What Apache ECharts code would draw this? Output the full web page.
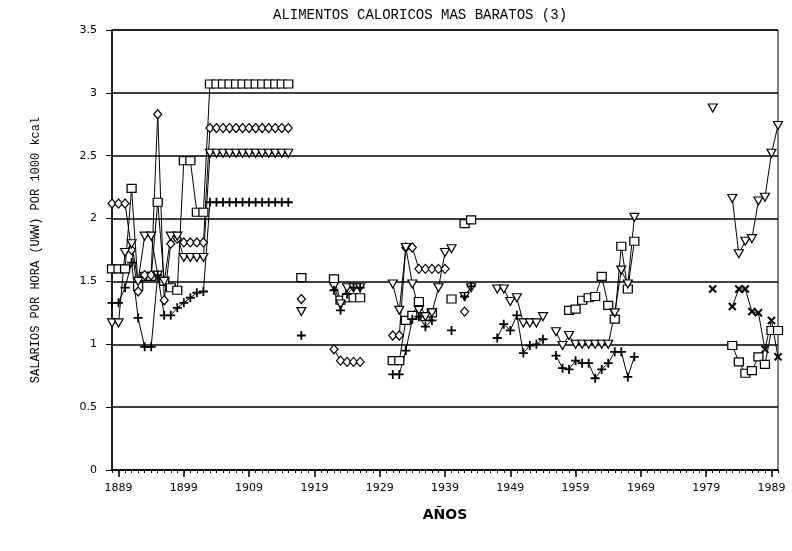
<!DOCTYPE html>
<html><head><meta charset="utf-8">
<script src="https://cdn.jsdelivr.net/npm/echarts/dist/echarts.min.js"></script>
<style>html,body{margin:0;padding:0;background:#fff}#c{width:792px;height:551px}</style>
</head><body><div id="c"></div>
<script>
// categories: one per year
const years = [];
for (let y = 1888; y <= 1990; y++) years.push(String(y));
const labelYears = ['1889','1899','1909','1919','1929','1939','1949','1959','1969','1979','1989'];
const yTicks = [0, 0.5, 1, 1.5, 2, 2.5, 3, 3.5];

// series values: [year, value]
const squares = [
 [1888,1.60],[1889,1.60],[1890,1.60],[1891,2.24],[1892,1.46],[1893,1.54],[1894,1.54],[1895,2.13],[1896,1.50],[1897,1.45],[1898,1.43],[1899,2.46],[1900,2.46],[1901,2.05],[1902,2.05],
 [1903,3.07],[1904,3.07],[1905,3.07],[1906,3.07],[1907,3.07],[1908,3.07],[1909,3.07],[1910,3.07],[1911,3.07],[1912,3.07],[1913,3.07],[1914,3.07],[1915,3.07],
 [1917,1.53],
 [1922,1.52],[1923,1.35],[1924,1.37],[1925,1.37],[1926,1.37],
 [1931,0.87],[1932,0.87],[1933,1.19],[1934,1.23],[1935,1.34],[1936,1.22],[1937,1.25],
 [1940,1.36],
 [1942,1.96],[1943,1.99],
 [1958,1.27],[1959,1.28],[1960,1.35],[1961,1.37],[1962,1.38],[1963,1.54],[1964,1.31],[1965,1.20],[1966,1.78],[1967,1.44],[1968,1.82],
 [1983,0.99],[1984,0.86],[1985,0.77],[1986,0.79],[1987,0.90],[1988,0.84],[1989,1.11],[1990,1.11]
];
const diamonds = [
 [1888,2.12],[1889,2.12],[1890,2.12],[1891,1.75],[1892,1.42],[1893,1.55],[1894,1.55],[1895,2.83],[1896,1.35],[1897,1.80],[1898,1.84],[1899,1.81],[1900,1.81],[1901,1.81],[1902,1.81],
 [1903,2.72],[1904,2.72],[1905,2.72],[1906,2.72],[1907,2.72],[1908,2.72],[1909,2.72],[1910,2.72],[1911,2.72],[1912,2.72],[1913,2.72],[1914,2.72],[1915,2.72],
 [1917,1.36],
 [1922,0.96],[1923,0.87],[1924,0.86],[1925,0.86],[1926,0.86],
 [1931,1.07],[1932,1.07],[1933,1.77],[1934,1.77],[1935,1.60],[1936,1.60],[1937,1.60],[1938,1.60],[1939,1.60],
 [1942,1.26]
];
const triangles = [
 [1888,1.17],[1889,1.17],[1890,1.73],[1891,1.80],[1892,1.50],[1893,1.86],[1894,1.86],[1895,1.55],[1896,1.50],[1897,1.86],[1898,1.86],[1899,1.69],[1900,1.69],[1901,1.69],[1902,1.69],
 [1903,2.52],[1904,2.52],[1905,2.52],[1906,2.52],[1907,2.52],[1908,2.52],[1909,2.52],[1910,2.52],[1911,2.52],[1912,2.52],[1913,2.52],[1914,2.52],[1915,2.52],
 [1917,1.26],
 [1922,1.46],[1923,1.32],[1924,1.45],[1925,1.45],[1926,1.45],
 [1931,1.48],[1932,1.27],[1933,1.77],[1934,1.48],[1935,1.27],[1936,1.22],[1937,1.25],[1938,1.45],[1939,1.73],[1940,1.76],
 [1942,1.38],[1943,1.45],
 [1947,1.44],[1948,1.44],[1949,1.34],[1950,1.37],[1951,1.17],[1952,1.17],[1953,1.17],[1954,1.22],
 [1956,1.10],[1957,0.99],[1958,1.07],[1959,1.00],[1960,1.00],[1961,1.00],[1962,1.00],[1963,1.00],[1964,1.00],[1965,1.25],[1966,1.59],[1967,1.48],[1968,2.01],
 [1980,2.88],
 [1983,2.16],[1984,1.72],[1985,1.82],[1986,1.84],[1987,2.14],[1988,2.17],[1989,2.52],[1990,2.74]
];
const pluses = [
 [1888,1.33],[1889,1.33],[1890,1.45],[1891,1.65],[1892,1.21],[1893,0.98],[1894,0.98],[1895,1.55],[1896,1.23],[1897,1.23],[1898,1.29],[1899,1.33],[1900,1.37],[1901,1.41],[1902,1.42],
 [1903,2.13],[1904,2.13],[1905,2.13],[1906,2.13],[1907,2.13],[1908,2.13],[1909,2.13],[1910,2.13],[1911,2.13],[1912,2.13],[1913,2.13],[1914,2.13],[1915,2.13],
 [1917,1.07],
 [1922,1.43],[1923,1.27],[1924,1.40],[1925,1.45],[1926,1.45],
 [1931,0.76],[1932,0.76],[1933,0.95],[1934,1.20],[1935,1.22],[1936,1.14],[1937,1.19],
 [1940,1.11],
 [1942,1.38],[1943,1.46],
 [1947,1.05],[1948,1.16],[1949,1.11],[1950,1.23],[1951,0.93],[1952,0.99],[1953,1.00],[1954,1.04],
 [1956,0.91],[1957,0.81],[1958,0.80],[1959,0.87],[1960,0.85],[1961,0.85],[1962,0.73],[1963,0.80],[1964,0.85],[1965,0.94],[1966,0.94],[1967,0.74],[1968,0.90]
];
const crosses = [
 [1980,1.44],
 [1983,1.30],[1984,1.44],[1985,1.44],[1986,1.26],[1987,1.25],[1988,0.96],[1989,1.19],[1990,0.90]
];

function dense(pairs) {
  const m = {};
  pairs.forEach(p => { m[String(p[0])] = p[1]; });
  return years.map(y => (y in m ? m[y] : null));
}

const plusPath = 'path://M4,0H6V4H10V6H6V10H4V6H0V4H4Z';

function mk(name, pairs, symbol, size, rotate, filled) {
  return {
    name: name, type: 'line', data: dense(pairs), xAxisIndex: 0,
    connectNulls: false, showAllSymbol: true, symbol: symbol, symbolSize: size,
    symbolRotate: rotate,
    lineStyle: { color: '#000', width: 1 },
    itemStyle: filled ? { color: '#000', borderWidth: 0 } : { color: '#fff', borderColor: '#000', borderWidth: 1.2 },
    emphasis: { disabled: true }
  };
}

const chart = echarts.init(document.getElementById('c'), null, { renderer: 'canvas' });
chart.setOption({
  animation: false,
  backgroundColor: '#fff',
  title: {
    text: 'ALIMENTOS CALORICOS MAS BARATOS (3)',
    left: 268, top: 3,
    textStyle: { fontSize: 14, fontWeight: 'normal', color: '#000', fontFamily: 'Liberation Mono' }
  },
  grid: { left: 112, right: 14, top: 30, bottom: 81, show: true, borderColor: '#000', borderWidth: 1, backgroundColor: 'transparent' },
  xAxis: [{
    type: 'category', data: years, boundaryGap: false, position: 'bottom',
    name: 'AÑOS', nameLocation: 'middle', nameGap: 38,
    nameTextStyle: { fontSize: 14, fontWeight: 'bold', color: '#000', fontFamily: 'DejaVu Sans' },
    axisLine: { lineStyle: { color: '#000', width: 1.5 } },
    axisTick: { interval: 0, length: 3, lineStyle: { color: '#000' } },
    axisLabel: { interval: (i, v) => labelYears.indexOf(v) >= 0, color: '#000', fontSize: 11, margin: 13, fontFamily: 'DejaVu Sans' },
    splitLine: { show: false }
  }, {
    type: 'category', data: years, boundaryGap: false, position: 'bottom',
    axisLine: { show: false },
    axisTick: { interval: (i, v) => labelYears.indexOf(v) >= 0, length: 7, lineStyle: { color: '#000', width: 1.5 } },
    axisLabel: { show: false },
    splitLine: { show: false }
  }],
  yAxis: {
    type: 'value', min: yTicks[0], max: yTicks[yTicks.length - 1], interval: 0.5,
    name: 'SALARIOS POR HORA (UWW) POR 1000 kcal', nameLocation: 'middle', nameGap: 70, nameRotate: 90,
    nameTextStyle: { fontSize: 12, color: '#000', fontFamily: 'Liberation Mono' },
    axisLine: { show: true, lineStyle: { color: '#000', width: 1.5 } },
    axisTick: { show: true, length: 6, lineStyle: { color: '#000' } },
    axisLabel: { color: '#000', fontSize: 11, margin: 15, fontFamily: 'DejaVu Sans' },
    splitLine: { show: true, lineStyle: { color: '#000', width: 1.5 } }
  },
  series: [
    mk('squares', squares, 'rect', [9, 8], 0, false),
    mk('diamonds', diamonds, 'diamond', [8, 9], 0, false),
    mk('triangles', triangles, 'triangle', [9, 8], 180, false),
    mk('pluses', pluses, plusPath, [9, 9], 0, true),
    mk('crosses', crosses, plusPath, [10, 10], 45, true)
  ]
});
</script>
</body></html>
